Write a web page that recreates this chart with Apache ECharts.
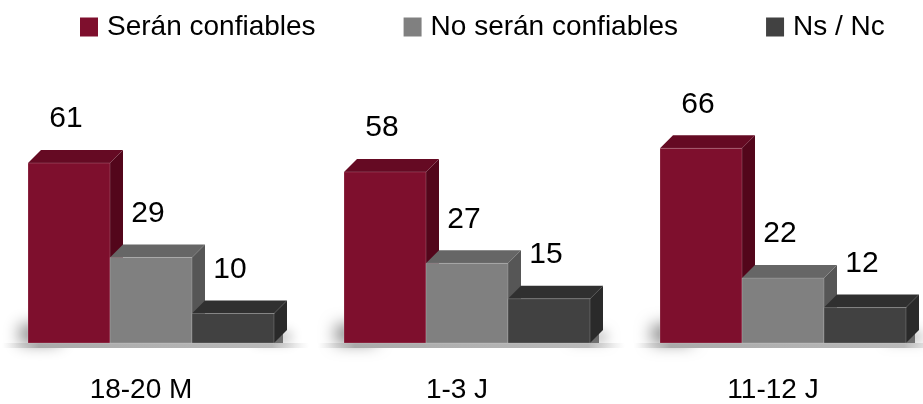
<!DOCTYPE html>
<html>
<head>
<meta charset="utf-8">
<script src="https://cdn.jsdelivr.net/npm/echarts@6/dist/echarts.min.js"></script>
<style>
  html, body { margin: 0; padding: 0; background: #ffffff; }
  #chart { width: 923px; height: 404px; }
</style>
</head>
<body>
<div id="chart"></div>
<script>
// Survey groups and the three answer shares (%)
const categories = ['18-20 M', '1-3 J', '11-12 J'];
const seriesNames = ['Serán confiables', 'No serán confiables', 'Ns / Nc'];
const confiables = [61, 58, 66];
const noConfiables = [29, 27, 22];
const nsNc = [10, 15, 12];

const FONT = '"Liberation Sans", Arial, sans-serif';

// Face colours of each box: front, top and right side
const palettes = [
  { front: '#7e0f2d', top: '#650a23', side: '#53061b' },
  { front: '#808080', top: '#666666', side: '#565656' },
  { front: '#414141', top: '#303030', side: '#2a2a2a' }
];
const BAR_W = 82;         // width of one box front
const DEPTH_X = 13;       // horizontal depth of the 3D faces
const DEPTH_Y = 13;       // vertical depth of the 3D faces
const GROUP_SHIFT = -113; // first box's left edge relative to the category centre

function boxRenderer(idx) {
  return function (params, api) {
    const cat = api.value(0);
    const val = api.value(1);
    const top = api.coord([cat, val]);
    const base = api.coord([cat, 0]);
    const x0 = top[0] + GROUP_SHIFT + idx * BAR_W;
    const x1 = x0 + BAR_W;
    const yT = top[1];
    const yB = base[1];
    const c = palettes[idx];
    return {
      type: 'group',
      children: [
        { type: 'polygon',
          shape: { points: [[x1, yT], [x1 + DEPTH_X, yT - DEPTH_Y], [x1 + DEPTH_X, yB - DEPTH_Y], [x1, yB]] },
          style: { fill: c.side } },
        { type: 'polygon',
          shape: { points: [[x0, yT], [x0 + DEPTH_X, yT - DEPTH_Y], [x1 + DEPTH_X, yT - DEPTH_Y], [x1, yT]] },
          style: { fill: c.top } },
        { type: 'rect',
          shape: { x: x0, y: yT, width: BAR_W, height: yB - yT },
          style: { fill: c.front, stroke: 'rgba(255,255,255,0.18)', lineWidth: 1 } },
        { type: 'text',
          x: (x0 + x1) / 2 - 3, y: yT - 44,
          style: { text: String(val), fill: '#000000', font: '30px ' + FONT,
                   align: 'center', verticalAlign: 'middle' } }
      ]
    };
  };
}

// Soft floor shadow under every group of boxes
function floorRenderer(params, api) {
  const base = api.coord([api.value(0), 0]);
  const left = base[0] + GROUP_SHIFT;
  const right = left + 3 * BAR_W + DEPTH_X;
  const yB = base[1];
  return {
    type: 'group',
    children: [
      { type: 'rect',
        shape: { x: left + 4, y: yB - 18, width: 40, height: 18 },
        style: { fill: 'rgba(0,0,0,0.7)', shadowBlur: 16, shadowColor: 'rgba(0,0,0,0.7)', shadowOffsetX: -12, shadowOffsetY: 0 } },
      { type: 'rect',
        shape: { x: right - 40, y: yB - 12, width: 36, height: 12 },
        style: { fill: 'rgba(0,0,0,0.5)', shadowBlur: 12, shadowColor: 'rgba(0,0,0,0.45)', shadowOffsetX: 8 } },
      { type: 'rect',
        shape: { x: left - 26, y: yB, width: right - left + 48, height: 5 },
        style: {
          fill: new echarts.graphic.LinearGradient(0, 0, 1, 0, [
            { offset: 0, color: 'rgba(200,200,200,0)' },
            { offset: 0.12, color: 'rgba(170,170,170,1)' },
            { offset: 0.88, color: 'rgba(185,185,185,1)' },
            { offset: 1, color: 'rgba(210,210,210,0)' }
          ])
        } }
    ]
  };
}

const valueSets = [confiables, noConfiables, nsNc];

const chart = echarts.init(document.getElementById('chart'), null, { renderer: 'canvas' });

const series = [{
  type: 'custom',
  name: 'floor',
  renderItem: floorRenderer,
  encode: { x: 0, y: 1 },
  data: categories.map((c, i) => [i, 0]),
  z: 1,
  silent: true
}].concat(valueSets.map((vals, idx) => ({
  type: 'custom',
  name: seriesNames[idx],
  renderItem: boxRenderer(idx),
  encode: { x: 0, y: 1 },
  itemStyle: { color: palettes[idx].front },
  data: vals.map((v, i) => [i, v]),
  z: 2 + idx
})));

chart.setOption({
  animation: false,
  backgroundColor: '#ffffff',
  legend: {
    data: seriesNames.map(n => ({ name: n, icon: 'rect' })),
    left: 75,
    top: 8,
    itemWidth: 18,
    itemHeight: 19,
    itemGap: 88,
    textStyle: { fontSize: 28, fontFamily: FONT, color: '#000000', padding: [0, 0, 0, 4] }
  },
  grid: { left: -17, width: 948, top: 48, bottom: 61, outerBoundsMode: 'none', containLabel: false },
  xAxis: {
    type: 'category',
    data: categories,
    axisLine: { show: false },
    axisTick: { show: false },
    axisLabel: { fontSize: 28, fontFamily: FONT, color: '#000000', margin: 33 }
  },
  yAxis: {
    type: 'value',
    min: 0,
    max: 100,
    show: false,
    splitLine: { show: false }
  },
  series: series
});
</script>
</body>
</html>
